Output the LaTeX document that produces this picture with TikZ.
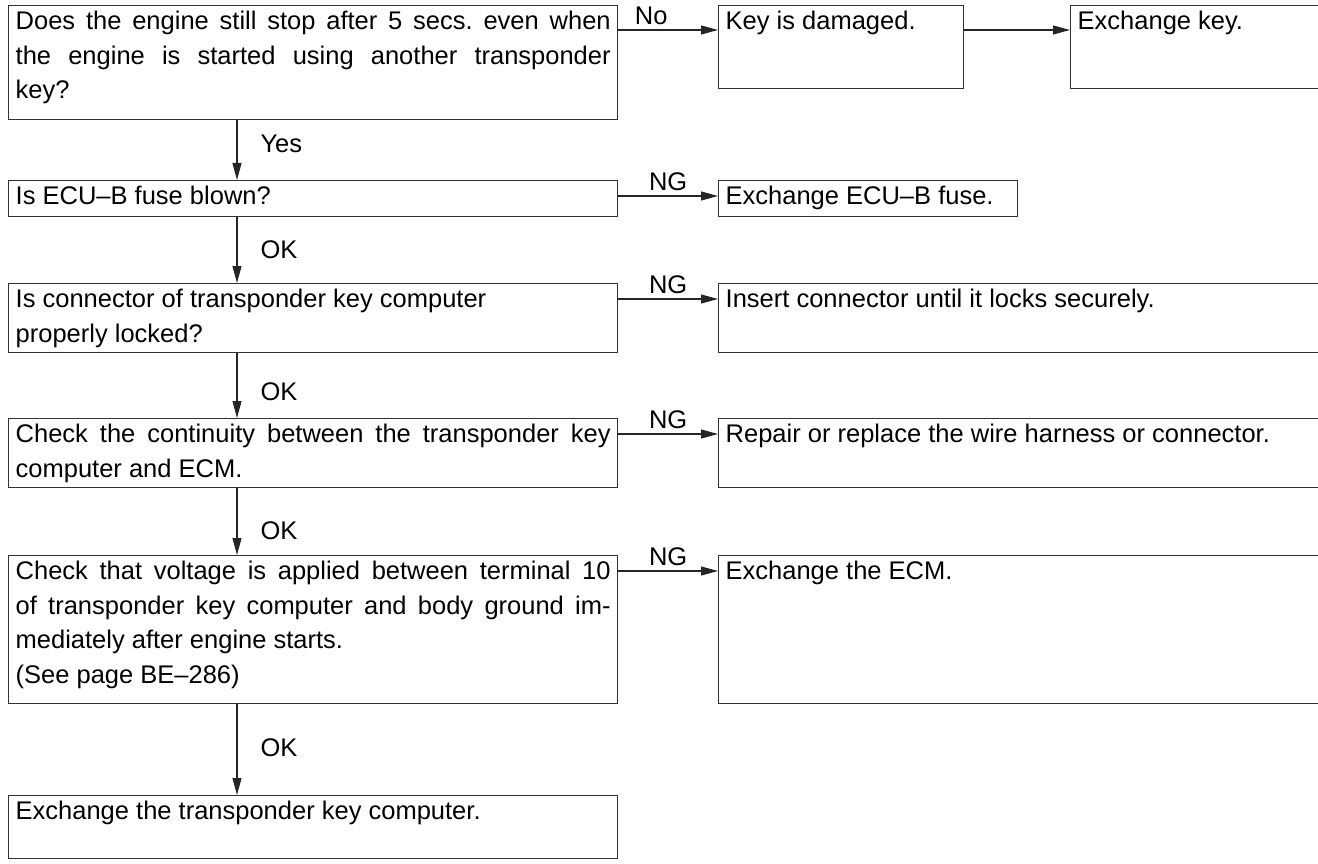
\documentclass[tikz,border=0pt]{standalone}
\usepackage{fontspec}
\setmainfont{Liberation Sans}
\usetikzlibrary{arrows.meta,calc}
\frenchspacing

% box text: width, height, lines (first baseline fixed)
\newcommand{\btext}[3]{\parbox[t][#2pt][t]{#1pt}{\rule{0pt}{24pt}#3}}
\newcommand{\jline}[1]{\makebox[\linewidth][s]{#1}}

\begin{document}
\begin{tikzpicture}[x=1pt, y=-1pt,
  every node/.style={font=\fontsize{25.5}{34.5}\selectfont},
  box/.style={draw=black!80, line width=1.4pt, anchor=north west, inner xsep=7pt, inner ysep=0pt},
  arr/.style={draw=black!85, line width=1.1pt, -{Triangle[length=17pt,width=9pt]}},
  lbl/.style={inner sep=0pt}]
\useasboundingbox (0,0) rectangle (1318,864);
\clip (0,0) rectangle (1318,864);
\coordinate (ax) at (237,0);
% left column
\node[box] (q1) at (8,5) {\btext{595}{114}{\jline{Does the engine still stop after 5 secs. even when}\\
  \jline{the engine is started using another transponder}\\ key?}};
\node[box] (q2) at (8,180) {\btext{595}{36}{Is ECU--B fuse blown?}};
\node[box] (q3) at (8,283) {\btext{595}{69}{Is connector of transponder key computer\\ properly locked?}};
\node[box] (q4) at (8,418) {\btext{595}{69}{\jline{Check the continuity between the transponder key}\\ computer and ECM.}};
\node[box] (q5) at (8,555) {\btext{595}{148}{\jline{Check that voltage is applied between terminal 10}\\
  \jline{of transponder key computer and body ground im-}\\ mediately after engine starts.\\ (See page BE--286)}};
\node[box] (q6) at (8,795) {\btext{595}{63}{Exchange the transponder key computer.}};
% right column
\node[box] (r1) at (718,5) {\btext{231}{83}{Key is damaged.}};
\node[box] (r2) at (1070,5) {\btext{256}{83}{Exchange key.}};
\node[box] (r3) at (718,180) {\btext{285}{36}{Exchange ECU--B fuse.}};
\node[box] (r4) at (718,283) {\btext{608}{69}{Insert connector until it locks securely.}};
\node[box] (r5) at (718,418) {\btext{608}{69}{Repair or replace the wire harness or connector.}};
\node[box] (r6) at (718,555) {\btext{608}{148}{Exchange the ECM.}};
% downward arrows
\draw[arr] (q1.south -| ax) -- node[lbl, right=23pt, pos=.4] {Yes} (q2.north -| ax);
\draw[arr] (q2.south -| ax) -- node[lbl, right=23pt, pos=.5] {OK} (q3.north -| ax);
\draw[arr] (q3.south -| ax) -- node[lbl, right=23pt, pos=.6] {OK} (q4.north -| ax);
\draw[arr] (q4.south -| ax) -- node[lbl, right=23pt, pos=.64] {OK} (q5.north -| ax);
\draw[arr] (q5.south -| ax) -- node[lbl, right=23pt, pos=.48] {OK} (q6.north -| ax);
% sideways arrows
\draw[arr] ($(q1.north east)+(0,25)$) -- node[lbl, above=5pt, xshift=-17pt] {No} ($(r1.north west)+(0,25)$);
\draw[arr] ($(r1.north east)+(0,25)$) -- ($(r2.north west)+(0,25)$);
\draw[arr] ($(q2.north east)+(0,16)$) -- node[lbl, above=5pt] {NG} ($(r3.north west)+(0,16)$);
\draw[arr] ($(q3.north east)+(0,16)$) -- node[lbl, above=5pt] {NG} ($(r4.north west)+(0,16)$);
\draw[arr] ($(q4.north east)+(0,16)$) -- node[lbl, above=5pt] {NG} ($(r5.north west)+(0,16)$);
\draw[arr] ($(q5.north east)+(0,16)$) -- node[lbl, above=5pt] {NG} ($(r6.north west)+(0,16)$);
\end{tikzpicture}
\end{document}
